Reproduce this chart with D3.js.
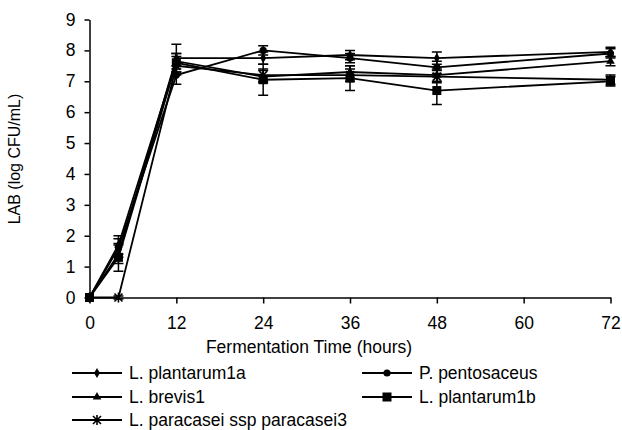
<!DOCTYPE html>
<html><head><meta charset="utf-8">
<script src="https://cdn.jsdelivr.net/npm/d3@7"></script>
<style>body{margin:0;background:#fff}svg{display:block}text{font-family:"Liberation Sans",Arial,sans-serif;fill:#000}</style>
</head><body><svg id="c" width="622" height="430"></svg>
<script>
const hours = [0, 4, 12, 24, 36, 48, 72];
const seriesNames = ["L. plantarum1a", "P. pentosaceus", "L. brevis1", "L. plantarum1b", "L. paracasei ssp paracasei3"];
const markers = ["diamond", "circle", "triangle", "square", "star"];
const plantarum1a = [0, 1.4, 7.75, 7.75, 7.85, 7.75, 7.95];
const pentosaceus = [0, 1.6, 7.2, 8.0, 7.75, 7.45, 7.9];
const brevis1 = [0, 1.7, 7.65, 7.15, 7.3, 7.2, 7.65];
const plantarum1b = [0, 1.3, 7.6, 7.05, 7.1, 6.7, 7.0];
const paracasei3 = [0, 0, 7.5, 7.2, 7.2, 7.15, 7.05];
const err1a = [0, 0.3, 0.45, 0.2, 0.15, 0.2, 0.15];
const errPent = [0, 0.3, 0.3, 0.15, 0.15, 0.2, 0.15];
const errBrev = [0, 0.3, 0.25, 0.2, 0.2, 0.2, 0.15];
const err1b = [0, 0.45, 0.3, 0.5, 0.4, 0.45, 0.15];
const errPara = [0, 0.05, 0.3, 0.2, 0.2, 0.2, 0.15];
const xTicks = [0, 12, 24, 36, 48, 60, 72];
const yTicks = [0, 1, 2, 3, 4, 5, 6, 7, 8, 9];

const values = [plantarum1a, pentosaceus, brevis1, plantarum1b, paracasei3];
const errors = [err1a, errPent, errBrev, err1b, errPara];

const svg = d3.select("#c");
const x = d3.scaleLinear().domain([0, 72]).range([89.5, 610.5]);
const y = d3.scaleLinear().domain([0, 9]).range([297.5, 19.5]);
const FS = 17.5;

// axes
const xa = svg.append("g").attr("transform", "translate(0,297.5)")
  .call(d3.axisBottom(x).tickValues(xTicks).tickSize(6).tickSizeOuter(0).tickPadding(13));
const ya = svg.append("g").attr("transform", "translate(89.5,0)")
  .call(d3.axisLeft(y).tickValues(yTicks).tickSize(5).tickSizeOuter(0).tickPadding(9));
[xa, ya].forEach(a => {
  a.selectAll("path,line").attr("stroke", "#000").attr("stroke-width", 1.5);
  a.selectAll("text").attr("font-size", FS).style("font-family", '"Liberation Sans",Arial,sans-serif');
});

svg.append("text").attr("x", 309).attr("y", 353).attr("text-anchor", "middle").attr("font-size", FS).text("Fermentation Time (hours)");
svg.append("text").attr("transform", "translate(20,159) rotate(-90)").attr("text-anchor", "middle").attr("font-size", 16).text("LAB (log CFU/mL)");

function drawMarker(g, type, cx, cy) {
  if (type === "diamond") g.append("path").attr("d", d3.symbol(d3.symbolDiamond, 30)()).attr("transform", `translate(${cx},${cy})`).attr("fill", "#000");
  else if (type === "circle") g.append("circle").attr("cx", cx).attr("cy", cy).attr("r", 3.6).attr("fill", "#000");
  else if (type === "triangle") g.append("path").attr("d", d3.symbol(d3.symbolTriangle, 32)()).attr("transform", `translate(${cx},${cy})`).attr("fill", "#000");
  else if (type === "square") g.append("rect").attr("x", cx - 4.5).attr("y", cy - 4.5).attr("width", 9).attr("height", 9).attr("fill", "#000");
  else if (type === "star") {
    const s = 4;
    g.append("path").attr("d", `M${cx - s},${cy - s}L${cx + s},${cy + s}M${cx - s},${cy + s}L${cx + s},${cy - s}M${cx},${cy - s - 1}L${cx},${cy + s + 1}`)
      .attr("stroke", "#000").attr("stroke-width", 1.6).attr("fill", "none");
  }
}

const line = d3.line().x(d => x(d[0])).y(d => y(d[1]));
values.forEach((vals, i) => {
  const g = svg.append("g");
  const pts = hours.map((h, j) => [h, vals[j]]);
  g.append("path").attr("d", line(pts)).attr("fill", "none").attr("stroke", "#000").attr("stroke-width", 1.8);
  pts.forEach((p, j) => {
    const e = errors[i][j];
    if (e > 0) {
      const cx = x(p[0]), y1 = y(p[1] + e), y2 = y(p[1] - e);
      g.append("path").attr("d", `M${cx},${y1}L${cx},${y2}M${cx - 5},${y1}L${cx + 5},${y1}M${cx - 5},${y2}L${cx + 5},${y2}`)
        .attr("stroke", "#000").attr("stroke-width", 1.5).attr("fill", "none");
    }
    drawMarker(g, markers[i], x(p[0]), y(p[1]));
  });
});

// legend
const legX = [72, 362];
const legY = [373, 397, 420];
seriesNames.forEach((name, i) => {
  const lx = legX[i % 2], ly = legY[Math.floor(i / 2)];
  const g = svg.append("g");
  g.append("line").attr("x1", lx).attr("x2", lx + 50).attr("y1", ly).attr("y2", ly).attr("stroke", "#000").attr("stroke-width", 1.8);
  drawMarker(g, markers[i], lx + 25, ly);
  g.append("text").attr("x", lx + 57).attr("y", ly + 6).attr("font-size", FS).text(name);
});
</script></body></html>
